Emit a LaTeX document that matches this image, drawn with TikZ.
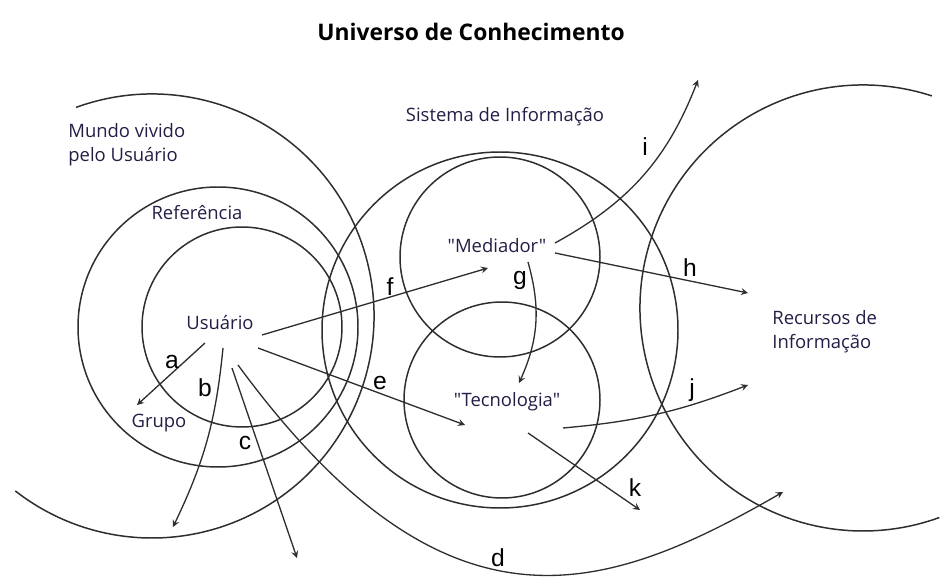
\documentclass[tikz,border=0pt]{standalone}
\usepackage{fontspec}
\setmainfont{Open Sans}
\newfontfamily\placefont{Open Sans}
\newfontfamily\letterfont{Liberation Sans}
\definecolor{txt}{RGB}{35,30,70}
\tikzset{
  orbit/.style={line width=0.85pt, black!82},
  link/.style={->, line width=0.75pt, black!82},
  tag/.style={font=\letterfont\fontsize{14}{14}\selectfont, inner sep=1pt},
  place/.style={text=txt, font=\placefont\fontsize{10.5}{13.6}\selectfont, inner sep=0pt},
}
\begin{document}
\begin{tikzpicture}[>=stealth]
    \useasboundingbox (0,0) rectangle (18.84,11.54);
    \node[font=\bfseries\fontsize{13}{15}\selectfont] (titulo) at (9.42,10.90) {Universo de Conhecimento};
    % circles
    \draw[orbit] (3.04,5.22) ++(110:4.44) arc[start angle=110,end angle=-128,radius=4.44];
    \draw[orbit] (4.36,5.00) circle (2.80);
    \draw[orbit] (4.84,5.00) circle (2.00);
    \draw[orbit] (10.00,4.94) circle (3.56);
    \draw[orbit] (10.00,6.40) circle (2.00);
    \draw[orbit] (10.04,3.54) circle (1.96);
    \draw[orbit] (17.26,5.38) ++(72:4.46) arc[start angle=72,end angle=290,radius=4.46];
    % texts
    \node[place, anchor=west, align=left] (mundo) at (1.36,8.64) {Mundo vivido\\pelo Usuário};
    \node[place] (referencia) at (3.94,7.28) {Referência};
    \node[place] (usuario) at (4.40,5.08) {Usuário};
    \node[place] (grupo) at (3.18,3.08) {Grupo};
    \node[place] (sistema) at (10.10,9.20) {Sistema de Informação};
    \node[place] (mediador) at (9.94,6.62) {"Mediador"};
    \node[place] (tecnologia) at (10.14,3.50) {"Tecnologia"};
    \node[place, anchor=west, align=left] (recursos) at (15.44,4.90) {Recursos de\\Informação};
    % arrow ends
    \coordinate (a0) at (4.10,4.68); \coordinate (a1) at (2.74,3.44);
    \coordinate (b0) at (4.46,4.58); \coordinate (b1) at (3.46,1.00);
    \coordinate (c0) at (4.64,4.18); \coordinate (c1) at (5.94,0.38);
    \coordinate (d0) at (4.76,4.24); \coordinate (d1) at (15.66,1.70);
    \coordinate (e0) at (5.16,4.58); \coordinate (e1) at (9.30,3.04);
    \coordinate (f0) at (5.24,4.84); \coordinate (f1) at (9.76,6.18);
    \coordinate (g0) at (10.56,6.30); \coordinate (g1) at (10.38,3.88);
    \coordinate (h0) at (11.10,6.48); \coordinate (h1) at (14.96,5.68);
    \coordinate (i0) at (11.10,6.68); \coordinate (i1) at (13.96,9.94);
    \coordinate (j0) at (11.26,2.98); \coordinate (j1) at (14.96,3.84);
    \coordinate (k0) at (10.56,2.88); \coordinate (k1) at (12.80,1.34);
    % arrows
    \draw[link] (a0) -- (a1);
    \draw[link] (b0) to[bend left=10] (b1);
    \draw[link] (c0) -- (c1);
    \draw[link] (d0) .. controls (8.90,-1.40) and (12.02,-0.40) .. (d1);
    \draw[link] (e0) -- (e1);
    \draw[link] (f0) -- (f1);
    \draw[link] (g0) to[bend left=20] (g1);
    \draw[link] (h0) -- (h1);
    \draw[link] (i0) to[bend right=20] (i1);
    \draw[link] (j0) to[bend right=8] (j1);
    \draw[link] (k0) -- (k1);
    % letters
    \node[tag] (la) at (3.44,4.30) {a};
    \node[tag] (lb) at (4.10,3.78) {b};
    \node[tag] (lc) at (4.90,2.68) {c};
    \node[tag] (ld) at (9.96,0.38) {d};
    \node[tag] (le) at (7.60,3.88) {e};
    \node[tag] (lf) at (7.80,5.80) {f};
    \node[tag] (lg) at (10.40,5.94) {g};
    \node[tag] (lh) at (13.80,6.18) {h};
    \node[tag] (li) at (12.90,8.60) {i};
    \node[tag] (lj) at (13.84,3.74) {j};
    \node[tag] (lk) at (12.70,1.78) {k};
\end{tikzpicture}
\end{document}
